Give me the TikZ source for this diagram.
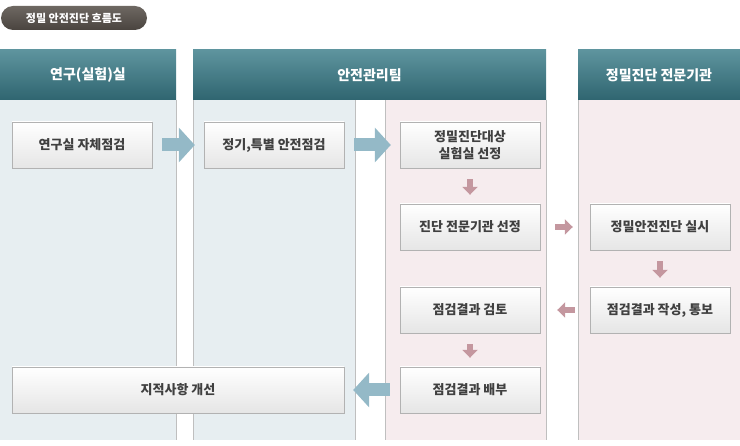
\documentclass[tikz,border=0pt]{standalone}
\usepackage{fontspec}
\setmainfont{Noto Sans CJK KR}
\usetikzlibrary{positioning,arrows.meta}
\definecolor{headtop}{HTML}{5E949E}
\definecolor{headbot}{HTML}{2F6570}
\definecolor{bluecol}{HTML}{E7EEF1}
\definecolor{pinkcol}{HTML}{F6ECEE}
\definecolor{bigblue}{HTML}{94B9C7}
\definecolor{smallpink}{HTML}{C4979F}
\definecolor{pilltop}{HTML}{6E6862}
\definecolor{pillbot}{HTML}{4A443F}
\begin{document}
\begin{tikzpicture}[x=1pt, y=-1pt,
    head/.style={rectangle, top color=headtop, bottom color=headbot, text=white,
                 font=\bfseries\fontsize{14}{16}\selectfont, inner sep=0pt},
    stepbox/.style={rectangle, draw=black!30, top color=white, bottom color=black!10,
                    font=\bfseries\fontsize{13}{17}\selectfont, text=black!75, minimum width=140pt,
                    minimum height=46pt, align=center, inner sep=0pt},
    bigarr/.style={draw=bigblue, line width=13pt,
                   -{Triangle[length=16pt,width=34pt]}, shorten <=10pt, shorten >=9pt},
    smallarr/.style={draw=smallpink, line width=6pt,
                   -{Triangle[length=8pt,width=15pt]}, shorten <=11pt, shorten >=9pt},
    sidearr/.style={smallarr, shorten <=15pt, shorten >=17pt}
]
\useasboundingbox (0,0) rectangle (740,446);

% Title
\node[rectangle, rounded corners=12pt, top color=pilltop, bottom color=pillbot, text=white,
      font=\bfseries\fontsize{11}{13}\selectfont, minimum width=146pt, minimum height=24pt] (title) at (74,18) {정밀 안전진단 흐름도};

% Columns
\fill[bluecol] (0,100) rectangle (176,440);
\draw[black!25] (176,100) -- (176,440);
\fill[bluecol] (193,100) rectangle (355,440);
\fill[pinkcol] (385,100) rectangle (546,440);
\draw[black!25] (193,100) -- (193,440) (355,100) -- (355,440) (385,100) -- (385,440) (546,100) -- (546,440);
\fill[pinkcol] (578,100) rectangle (740,440);
\draw[black!25] (578,100) -- (578,440);

% Headers
\node[head, minimum width=176pt, minimum height=50pt] (h_lab) at (88,75) {연구(실험)실};
\node[head, minimum width=353pt, minimum height=50pt] (h_team) at (369.5,75) {안전관리팀};
\node[head, minimum width=162pt, minimum height=50pt] (h_org) at (659,75) {정밀진단 전문기관};

% Steps
\node[stepbox] (selfchk) at (82,145) {연구실 자체점검};
\node[stepbox] (regchk) at (274,145) {정기,특별 안전점검};
\node[stepbox] (target) at (470,145) {정밀진단대상\\실험실 선정};
\node[stepbox] (choose) at (470,227) {진단 전문기관 선정};
\node[stepbox] (diag) at (660,227) {정밀안전진단 실시};
\node[stepbox] (report) at (660,310) {점검결과 작성, 통보};
\node[stepbox] (review) at (470,310) {점검결과 검토};
\node[stepbox] (deliver) at (470,390) {점검결과 배부};
\node[stepbox, minimum width=332pt] (improve) at (178,390) {지적사항 개선};

% Arrows
\draw[bigarr] (selfchk) -- (regchk);
\draw[bigarr] (regchk) -- (target);
\draw[bigarr] (deliver) -- (improve);
\draw[smallarr] (target) -- (choose);
\draw[sidearr] (choose) -- (diag);
\draw[smallarr] (diag) -- (report);
\draw[sidearr] (report) -- (review);
\draw[smallarr] (review) -- (deliver);
\end{tikzpicture}
\end{document}
